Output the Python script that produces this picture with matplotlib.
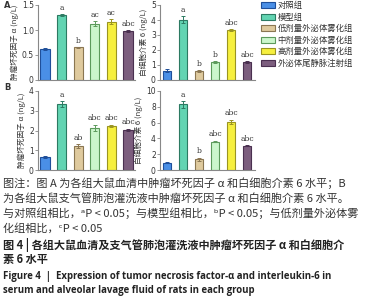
import matplotlib
matplotlib.use("Agg")
import matplotlib.pyplot as plt
from matplotlib.patches import Patch

plt.rcParams['font.family'] = ['Noto Sans CJK SC', 'DejaVu Sans']

groups = ["对照组", "模型组", "低剂量外泌体雾化组", "中剂量外泌体雾化组", "高剂量外泌体雾化组", "外泌体尾静脉注射组"]
colors = ["#4a8fe6", "#62d4b2", "#dfca9e", "#cbf6cc", "#f6ef3e", "#7c5e7e"]
edges = ["#1f4f9a", "#2c7a62", "#8a7652", "#5c9a5c", "#9a9422", "#4a3050"]

tnf_serum = [0.61, 1.30, 0.65, 1.13, 1.17, 0.97]
tnf_serum_err = [0.02, 0.02, 0.01, 0.05, 0.05, 0.02]
tnf_serum_sig = ["", "a", "b", "ac", "ac", "abc"]

il6_serum = [0.62, 4.02, 0.62, 1.18, 3.33, 1.22]
il6_serum_err = [0.08, 0.25, 0.06, 0.08, 0.07, 0.06]
il6_serum_sig = ["", "a", "b", "b", "abc", "abc"]

tnf_balf = [0.67, 3.35, 1.22, 2.13, 2.23, 2.05]
tnf_balf_err = [0.04, 0.14, 0.10, 0.16, 0.07, 0.05]
tnf_balf_sig = ["", "a", "ab", "abc", "abc", "abc"]

il6_balf = [0.94, 8.30, 1.37, 3.60, 6.07, 3.08]
il6_balf_err = [0.05, 0.40, 0.20, 0.10, 0.30, 0.10]
il6_balf_sig = ["", "a", "b", "abc", "abc", "abc"]

ylab_tnf = "肿瘤坏死因子 α (ng/L)"
ylab_il6 = "白细胞介素 6 (ng/L)"

fig = plt.figure(figsize=(3.65, 3.0), dpi=100)
W, H = 365, 300

def add_ax(x0, x1, ytop, ybot):
    return fig.add_axes([x0 / W, 1 - ybot / H, (x1 - x0) / W, (ybot - ytop) / H])

def draw(ax, vals, errs, sig, ymax, ticks, ticklabels, ylabel, xlim):
    x = list(range(len(vals)))
    ax.bar(x, vals, width=0.55, color=colors, edgecolor=edges, linewidth=0.8, zorder=2)
    for i in x:
        ax.errorbar(i, vals[i], yerr=errs[i], color=edges[i], capsize=1.5,
                    elinewidth=0.7, capthick=0.7, zorder=3)
        if sig[i]:
            ax.text(i, vals[i] + errs[i] + ymax * 0.03, sig[i], ha='center', va='bottom',
                    fontsize=5.5, color="#333333", family=['DejaVu Serif'])
    ax.set_ylim(0, ymax)
    ax.set_xlim(*xlim)
    ax.set_yticks(ticks)
    ax.set_yticklabels(ticklabels, fontsize=5.5, color="#333333", family=['DejaVu Sans'])
    ax.set_xticks([])
    ax.set_ylabel(ylabel, fontsize=5.5, color="#333333", labelpad=2)
    for s in ['top', 'right']:
        ax.spines[s].set_visible(False)
    for s in ['left', 'bottom']:
        ax.spines[s].set_color("#888888")
        ax.spines[s].set_linewidth(0.8)
    ax.tick_params(axis='y', length=2, width=0.6, color="#888888", pad=1)
    ax.patch.set_alpha(0)

a1 = add_ax(38, 135, 5, 80)
draw(a1, tnf_serum, tnf_serum_err, tnf_serum_sig, 1.5, [0, 0.5, 1.0, 1.5], ["0", "0.5", "1.0", "1.5"], ylab_tnf, (-0.42, 5.42))
a2 = add_ax(160, 255, 5, 80)
draw(a2, il6_serum, il6_serum_err, il6_serum_sig, 5, [0, 1, 2, 3, 4, 5], ["0", "1", "2", "3", "4", "5"], ylab_il6, (-0.44, 5.5))
b1 = add_ax(38, 135, 91, 170)
draw(b1, tnf_balf, tnf_balf_err, tnf_balf_sig, 4, [0, 1, 2, 3, 4], ["0", "1", "2", "3", "4"], ylab_tnf, (-0.42, 5.42))
b2 = add_ax(160, 255, 91, 170)
draw(b2, il6_balf, il6_balf_err, il6_balf_sig, 10, [0, 2, 4, 6, 8, 10], ["0", "2", "4", "6", "8", "10"], ylab_il6, (-0.44, 5.5))

fig.text(4 / W, 1 - 5 / H, "A", fontsize=6, fontweight='bold', color="#333333", va='center', family=['DejaVu Sans'])
fig.text(4 / W, 1 - 88 / H, "B", fontsize=6, fontweight='bold', color="#333333", va='center', family=['DejaVu Sans'])

handles = [Patch(facecolor=c, edgecolor=e, linewidth=0.8) for c, e in zip(colors, edges)]
fig.legend(handles, groups, loc='upper left', bbox_to_anchor=(261 / W, 1 - 1 / H), frameon=False,
           fontsize=6, handlelength=1.7, handleheight=0.7, handletextpad=0.3, labelspacing=0.3,
           borderpad=0, borderaxespad=0, labelcolor="#333333")

cap_color = "#333333"
lines = [
    (183, "图注：图 A 为各组大鼠血清中肿瘤坏死因子 α 和白细胞介素 6 水平；B", 'normal'),
    (198, "为各组大鼠支气管肺泡灌洗液中肿瘤坏死因子 α 和白细胞介素 6 水平。", 'normal'),
    (213, "与对照组相比，ᵃP < 0.05；与模型组相比，ᵇP < 0.05；与低剂量外泌体雾", 'normal'),
    (228, "化组相比，ᶜP < 0.05", 'normal'),
]
for y, t, w in lines:
    fig.text(3 / W, 1 - y / H, t, fontsize=8, color=cap_color, va='center', ha='left', fontweight=w)

fig.text(3 / W, 1 - 245 / H, "图 4 | 各组大鼠血清及支气管肺泡灌洗液中肿瘤坏死因子 α 和白细胞介",
         fontsize=8, color="#222222", va='center', ha='left', fontweight='bold')
fig.text(3 / W, 1 - 260 / H, "素 6 水平", fontsize=8, color="#222222", va='center', ha='left', fontweight='bold')
fig.text(3 / W, 1 - 277 / H, "Figure 4  |  Expression of tumor necrosis factor-α and interleukin-6 in",
         fontsize=6.9, color="#222222", va='center', ha='left', fontweight='bold', family=['Open Sans', 'DejaVu Sans'])
fig.text(3 / W, 1 - 291 / H, "serum and alveolar lavage fluid of rats in each group",
         fontsize=6.9, color="#222222", va='center', ha='left', fontweight='bold', family=['Open Sans', 'DejaVu Sans'])

fig.savefig("out.png", dpi=100)
